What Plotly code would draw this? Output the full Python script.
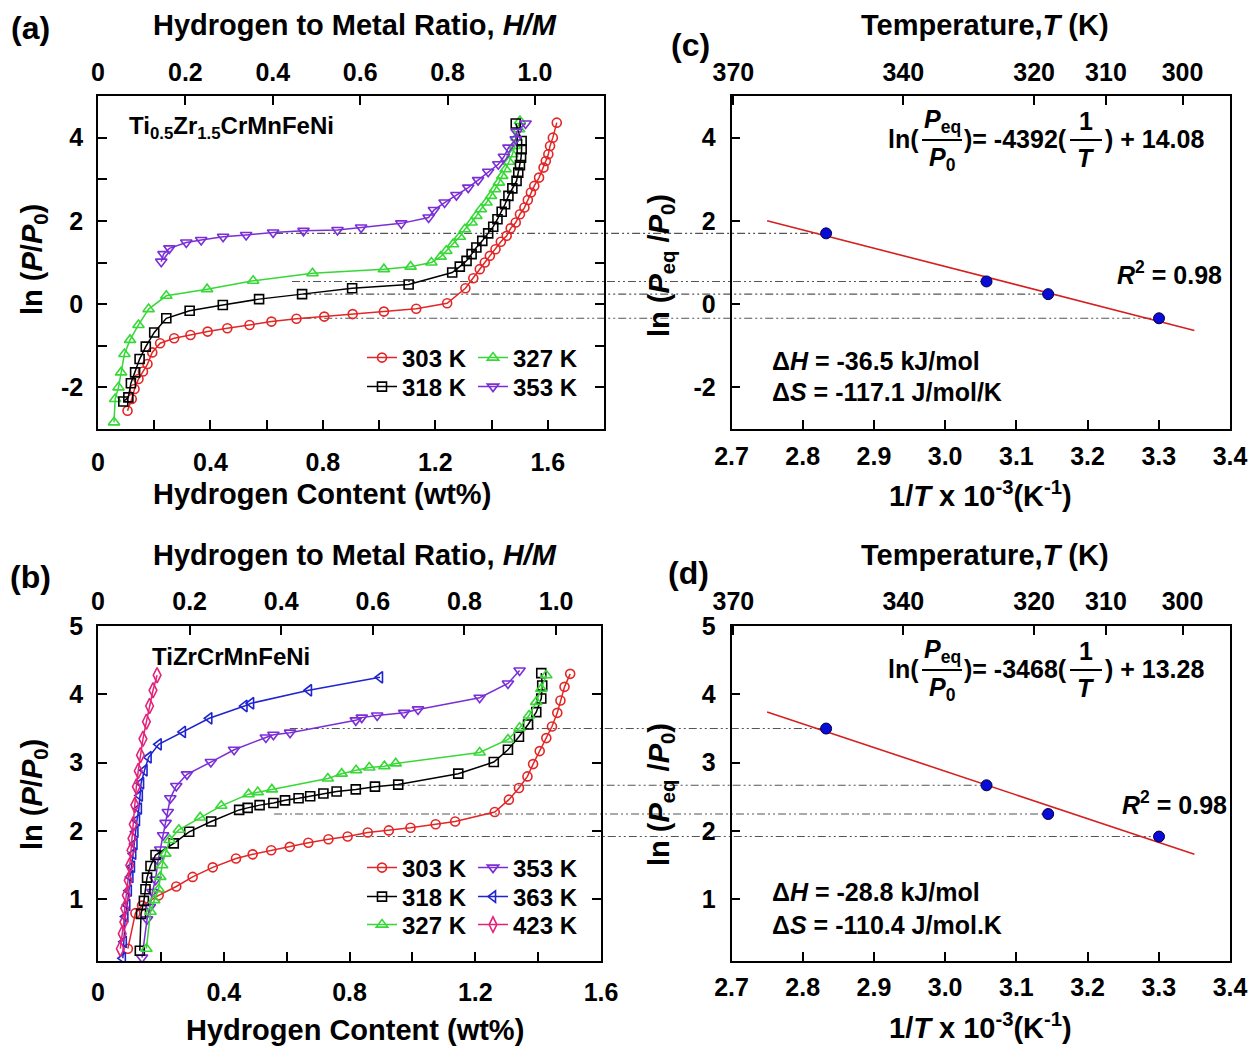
import plotly.graph_objects as go

W, H = 1254, 1048
FONT = "Liberation Sans, Arial, Helvetica, sans-serif"

# ---------------- (a) Ti0.5Zr1.5CrMnFeNi isotherms: wt% H vs ln(P/P0) ----------------
a_wt_303 = [0.105, 0.120, 0.130, 0.144, 0.160, 0.176, 0.193, 0.221, 0.271, 0.329, 0.390, 0.460, 0.539, 0.617,
            0.706, 0.805, 0.906, 1.017, 1.132, 1.242, 1.307, 1.335, 1.358, 1.376, 1.394, 1.414, 1.433, 1.454,
            1.468, 1.486, 1.501, 1.517, 1.529, 1.540, 1.552, 1.569, 1.585, 1.593, 1.602, 1.608, 1.618, 1.632]
a_ln_303 = [-2.56, -2.28, -2.04, -1.80, -1.62, -1.44, -1.16, -0.94, -0.82, -0.74, -0.66, -0.58, -0.50, -0.42,
            -0.35, -0.30, -0.24, -0.18, -0.11, 0.02, 0.38, 0.62, 0.84, 1.00, 1.16, 1.32, 1.50, 1.64,
            1.82, 1.96, 2.16, 2.32, 2.50, 2.68, 2.84, 3.04, 3.28, 3.44, 3.60, 3.80, 4.00, 4.36]

a_wt_318 = [0.090, 0.108, 0.117, 0.132, 0.148, 0.170, 0.200, 0.243, 0.326, 0.444, 0.573, 0.726, 0.904, 1.105,
            1.260, 1.287, 1.311, 1.329, 1.346, 1.367, 1.388, 1.406, 1.421, 1.436, 1.448, 1.460, 1.474, 1.489,
            1.495, 1.501, 1.505, 1.507, 1.507, 1.486]
a_ln_318 = [-2.34, -2.24, -1.90, -1.64, -1.32, -1.02, -0.68, -0.34, -0.16, -0.02, 0.12, 0.24, 0.38, 0.47,
            0.76, 0.90, 1.04, 1.20, 1.36, 1.52, 1.70, 1.86, 2.04, 2.22, 2.40, 2.60, 2.78, 2.96,
            3.16, 3.34, 3.52, 3.72, 3.92, 4.34]

a_wt_327 = [0.057, 0.061, 0.073, 0.082, 0.094, 0.114, 0.144, 0.180, 0.243, 0.388, 0.552, 0.763, 1.017, 1.112,
            1.186, 1.219, 1.239, 1.263, 1.287, 1.305, 1.329, 1.346, 1.362, 1.382, 1.398, 1.412, 1.426, 1.438,
            1.450, 1.462, 1.474, 1.483, 1.489, 1.498, 1.501]
a_ln_327 = [-2.84, -2.28, -2.00, -1.64, -1.20, -0.86, -0.50, -0.12, 0.20, 0.36, 0.56, 0.74, 0.84, 0.90,
            1.00, 1.14, 1.28, 1.44, 1.62, 1.80, 1.96, 2.12, 2.28, 2.44, 2.60, 2.76, 2.92, 3.08,
            3.24, 3.42, 3.60, 3.80, 4.00, 4.20, 4.40]

a_wt_353 = [0.225, 0.233, 0.254, 0.314, 0.367, 0.445, 0.527, 0.623, 0.731, 0.852, 0.936, 1.079, 1.176, 1.195,
            1.233, 1.275, 1.317, 1.352, 1.388, 1.424, 1.444, 1.460, 1.486, 1.489, 1.521]
a_ln_353 = [1.02, 1.20, 1.34, 1.48, 1.54, 1.62, 1.66, 1.72, 1.76, 1.78, 1.84, 1.94, 2.08, 2.26,
            2.44, 2.62, 2.80, 2.98, 3.18, 3.36, 3.54, 3.76, 3.96, 4.14, 4.34]

# ---------------- (b) TiZrCrMnFeNi isotherms ----------------
b_wt_303 = [0.095, 0.119, 0.140, 0.193, 0.249, 0.301, 0.365, 0.439, 0.492, 0.551, 0.610, 0.669, 0.733, 0.794,
            0.858, 0.925, 0.994, 1.074, 1.136, 1.262, 1.307, 1.339, 1.366, 1.384, 1.405, 1.426, 1.444, 1.461,
            1.471, 1.484, 1.502]
b_ln_303 = [0.28, 0.80, 0.91, 1.06, 1.19, 1.33, 1.47, 1.60, 1.66, 1.72, 1.77, 1.83, 1.88, 1.92,
            1.98, 2.01, 2.05, 2.10, 2.14, 2.28, 2.46, 2.63, 2.80, 2.98, 3.17, 3.36, 3.53, 3.73,
            3.91, 4.11, 4.30]

b_wt_318 = [0.133, 0.137, 0.146, 0.151, 0.156, 0.167, 0.183, 0.241, 0.290, 0.360, 0.449, 0.476, 0.514, 0.558,
            0.595, 0.638, 0.675, 0.717, 0.759, 0.820, 0.881, 0.955, 1.146, 1.259, 1.304, 1.339, 1.368, 1.394,
            1.410, 1.413, 1.410]
b_ln_318 = [0.25, 0.79, 0.98, 1.15, 1.32, 1.49, 1.65, 1.82, 1.99, 2.14, 2.31, 2.34, 2.38, 2.41,
            2.45, 2.48, 2.51, 2.55, 2.58, 2.61, 2.65, 2.68, 2.84, 3.01, 3.19, 3.38, 3.56, 3.74,
            3.94, 4.13, 4.31]

b_wt_327 = [0.154, 0.167, 0.179, 0.193, 0.198, 0.204, 0.214, 0.228, 0.257, 0.325, 0.392, 0.479, 0.508, 0.553,
            0.731, 0.775, 0.821, 0.863, 0.911, 0.947, 1.214, 1.304, 1.341, 1.371, 1.394, 1.410, 1.426]
b_ln_327 = [0.28, 0.82, 0.99, 1.15, 1.33, 1.50, 1.67, 1.87, 2.02, 2.20, 2.37, 2.54, 2.57, 2.61,
            2.77, 2.84, 2.89, 2.93, 2.95, 2.99, 3.15, 3.34, 3.51, 3.69, 3.89, 4.08, 4.28]

b_wt_353 = [0.140, 0.156, 0.165, 0.173, 0.183, 0.191, 0.198, 0.207, 0.215, 0.222, 0.230, 0.249, 0.283, 0.359,
            0.433, 0.534, 0.558, 0.611, 0.820, 0.839, 0.888, 0.974, 1.018, 1.214, 1.304, 1.341]
b_ln_353 = [0.15, 0.71, 0.89, 1.11, 1.29, 1.57, 1.73, 1.94, 2.12, 2.28, 2.48, 2.66, 2.83, 3.01,
            3.19, 3.37, 3.41, 3.44, 3.62, 3.66, 3.69, 3.73, 3.78, 3.95, 4.16, 4.35]

b_wt_363 = [0.079, 0.082, 0.087, 0.093, 0.098, 0.103, 0.108, 0.112, 0.116, 0.119, 0.124, 0.130, 0.133, 0.137,
            0.148, 0.161, 0.193, 0.270, 0.354, 0.466, 0.487, 0.671, 0.897]
b_ln_363 = [0.14, 0.38, 0.75, 0.92, 1.13, 1.33, 1.48, 1.67, 1.81, 1.99, 2.16, 2.33, 2.52, 2.70,
            2.89, 3.08, 3.27, 3.45, 3.65, 3.83, 3.87, 4.06, 4.25]

b_wt_423 = [0.071, 0.077, 0.082, 0.085, 0.090, 0.096, 0.101, 0.105, 0.108, 0.112, 0.117, 0.122, 0.128, 0.135,
            0.143, 0.154, 0.164, 0.175, 0.188]
b_ln_423 = [0.28, 0.50, 0.67, 0.87, 1.06, 1.28, 1.50, 1.72, 1.89, 2.10, 2.38, 2.65, 2.88, 3.11,
            3.35, 3.60, 3.83, 4.06, 4.28]

# ---------------- (c), (d) van't Hoff plots ----------------
vh_T = [303, 318, 327, 353]                 # K
vh_ln_c = [-0.34, 0.24, 0.545, 1.70]        # plateau ln(Peq/P0), Ti0.5Zr1.5CrMnFeNi
vh_ln_d = [1.92, 2.25, 2.67, 3.50]          # plateau ln(Peq/P0), TiZrCrMnFeNi
fit_c = (-4392, 14.08)                      # slope (K), intercept
fit_d = (-3468, 13.28)
fit_x = [2.75, 3.35]                        # 1000/T extent of the fitted line
R_GAS = 8.314
# wt% at which the plateau guide lines leave the isotherm panels
guide_start_a = [0.73, 0.73, 0.69, 0.63]
guide_start_b = [0.82, 0.56, 0.95, 0.61]

# ---------------- tick values / labels ----------------
wt_major_a = [0, 0.4, 0.8, 1.2, 1.6]
wt_minor_a = [0.2, 0.6, 1.0, 1.4]
wt_major_b = [0, 0.4, 0.8, 1.2, 1.6]
wt_minor_b = [0.2, 0.6, 1.0, 1.4]
hm_ticks = [0, 0.2, 0.4, 0.6, 0.8, 1.0]
hm_text = ["0", "0.2", "0.4", "0.6", "0.8", "1.0"]
ln_major_a = [-2, 0, 2, 4]
ln_minor_a = [-1, 1, 3]
ln_ticks_c = [-2, 0, 2, 4]
ln_ticks_b = [1, 2, 3, 4, 5]
invT_ticks = [2.7, 2.8, 2.9, 3.0, 3.1, 3.2, 3.3, 3.4]
invT_text = ["2.7", "2.8", "2.9", "3.0", "3.1", "3.2", "3.3", "3.4"]
temp_ticks = [370, 340, 320, 310, 300]

# ---------------- panel geometry (pixels) ----------------
PA = dict(x=(98, 604), y=(96, 429))
PB = dict(x=(98, 601), y=(626, 961))
PC = dict(x=(731.5, 1230), y=(96, 429))
PD = dict(x=(731.5, 1230), y=(626, 961))
RA_x, RA_y, RA_top = [0, 1.8], [-3, 5], [0, 1.158]
RB_x, RB_y, RB_top = [0, 1.6], [0.1, 5], [0, 1.098]
RC_x, RC_y, RD_y = [2.7, 3.4], [-3, 5], [0.1, 5]


def dom_x(p):
    return [p["x"][0] / W, p["x"][1] / W]


def dom_y(p):
    return [1 - p["y"][1] / H, 1 - p["y"][0] / H]


def data_to_paper_x(p, rng, v):
    l, r = p["x"]
    return (l + (v - rng[0]) / (rng[1] - rng[0]) * (r - l)) / W


STY = {
    303: ("#e32626", "circle-open", 9),
    318: ("#000000", "square-open", 9),
    327: ("#36d836", "triangle-up-open", 10),
    353: ("#7b2ed6", "triangle-down-open", 10),
    363: ("#1f24d0", "triangle-left-open", 10),
    423: ("#e3237a", "diamond-tall-open", 11),
}


def iso(x, y, T, xa, ya, legend):
    c, sym, sz = STY[T]
    return go.Scatter(
        x=x, y=y, mode="lines+markers", name=f"{T} K", xaxis=xa, yaxis=ya, legend=legend,
        line=dict(color=c, width=1.5),
        marker=dict(symbol=sym, size=sz, color=c, line=dict(color=c, width=1.6)),
        hoverinfo="skip",
    )


def placeholder(xa, ya):
    return go.Scatter(x=[None], y=[None], xaxis=xa, yaxis=ya, showlegend=False, hoverinfo="skip")


inv_T = [1000.0 / t for t in vh_T]

traces = [
    iso(a_wt_303, a_ln_303, 303, "x", "y", "legend"),
    iso(a_wt_327, a_ln_327, 327, "x", "y", "legend"),
    iso(a_wt_318, a_ln_318, 318, "x", "y", "legend2"),
    iso(a_wt_353, a_ln_353, 353, "x", "y", "legend2"),
    placeholder("x2", "y"),
    iso(b_wt_303, b_ln_303, 303, "x5", "y5", "legend3"),
    iso(b_wt_353, b_ln_353, 353, "x5", "y5", "legend3"),
    iso(b_wt_318, b_ln_318, 318, "x5", "y5", "legend4"),
    iso(b_wt_363, b_ln_363, 363, "x5", "y5", "legend4"),
    iso(b_wt_327, b_ln_327, 327, "x5", "y5", "legend5"),
    iso(b_wt_423, b_ln_423, 423, "x5", "y5", "legend5"),
    placeholder("x6", "y5"),
    placeholder("x4", "y3"),
    placeholder("x8", "y7"),
]

for fit, pts, xa, ya in [(fit_c, vh_ln_c, "x3", "y3"), (fit_d, vh_ln_d, "x7", "y7")]:
    slope, icpt = fit
    traces.append(go.Scatter(x=fit_x, y=[slope * v / 1000.0 + icpt for v in fit_x], mode="lines",
                             xaxis=xa, yaxis=ya, showlegend=False, hoverinfo="skip",
                             line=dict(color="#d42020", width=1.6)))
    traces.append(go.Scatter(x=inv_T, y=pts, mode="markers", xaxis=xa, yaxis=ya, showlegend=False,
                             hoverinfo="skip",
                             marker=dict(size=11, color="#0b0bd8", line=dict(color="#000040", width=1))))

fig = go.Figure(traces)

TICKFONT = dict(family=FONT, size=25, color="black", weight="bold")
MINOR = dict(ticks="inside", ticklen=9, tickwidth=1.5, tickcolor="black", showgrid=False)


def ax(**kw):
    d = dict(showline=True, linecolor="black", linewidth=1.6, mirror=False, ticks="inside", ticklen=9,
             tickwidth=1.5, tickcolor="black", showgrid=False, zeroline=False, fixedrange=True,
             automargin=False, tickfont=TICKFONT, tickmode="array")
    d.update(kw)
    return d


temp_pos = [1000.0 / t for t in temp_ticks]


def fmt(vals):
    return [f"{v:g}" for v in vals]


fig.update_layout(
    template="none",
    xaxis=ax(domain=dom_x(PA), range=RA_x, anchor="y", tickvals=wt_major_a, ticktext=fmt(wt_major_a),
             minor=dict(tickvals=wt_minor_a, **MINOR), ticklabelstandoff=10),
    xaxis2=ax(overlaying="x", side="top", anchor="y", range=RA_top, tickvals=hm_ticks, ticktext=hm_text,
              ticklabelstandoff=3),
    yaxis=ax(domain=dom_y(PA), range=RA_y, anchor="x", mirror="ticks", tickvals=ln_major_a,
             ticktext=fmt(ln_major_a), minor=dict(tickvals=ln_minor_a, **MINOR), ticklabelstandoff=8),
    xaxis3=ax(domain=dom_x(PC), range=RC_x, anchor="y3", tickvals=invT_ticks, ticktext=invT_text,
              ticklabelstandoff=4),
    xaxis4=ax(overlaying="x3", side="top", anchor="y3", range=RC_x, tickvals=temp_pos,
              ticktext=[str(t) for t in temp_ticks], ticklabelstandoff=3),
    yaxis3=ax(domain=dom_y(PC), range=RC_y, anchor="x3", mirror=True, tickvals=ln_ticks_c,
              ticktext=fmt(ln_ticks_c), ticklabelstandoff=9),
    xaxis5=ax(domain=dom_x(PB), range=RB_x, anchor="y5", tickvals=wt_major_b, ticktext=fmt(wt_major_b),
              minor=dict(tickvals=wt_minor_b, **MINOR), ticklabelstandoff=8),
    xaxis6=ax(overlaying="x5", side="top", anchor="y5", range=RB_top, tickvals=hm_ticks, ticktext=hm_text,
              ticklabelstandoff=4),
    yaxis5=ax(domain=dom_y(PB), range=RB_y, anchor="x5", mirror="ticks", tickvals=ln_ticks_b,
              ticktext=fmt(ln_ticks_b), ticklabelstandoff=8),
    xaxis7=ax(domain=dom_x(PD), range=RC_x, anchor="y7", tickvals=invT_ticks, ticktext=invT_text,
              ticklabelstandoff=3),
    xaxis8=ax(overlaying="x7", side="top", anchor="y7", range=RC_x, tickvals=temp_pos,
              ticktext=[str(t) for t in temp_ticks], ticklabelstandoff=4),
    yaxis7=ax(domain=dom_y(PD), range=RD_y, anchor="x7", mirror=True, tickvals=ln_ticks_b,
              ticktext=fmt(ln_ticks_b), ticklabelstandoff=9),
)

# ---------- legends: one horizontal legend per row ----------
LEG_X = 362


def leg(ypx):
    return dict(orientation="h", x=LEG_X / W, y=1 - ypx / H, xanchor="left", yanchor="middle",
                xref="paper", yref="paper", entrywidth=66, entrywidthmode="pixels", itemwidth=30,
                bgcolor="rgba(0,0,0,0)", borderwidth=0, traceorder="normal",
                font=dict(family=FONT, size=24, color="black", weight="bold"))


fig.update_layout(legend=leg(358), legend2=leg(387), legend3=leg(868), legend4=leg(897), legend5=leg(925))

# ---------- plateau guide lines linking isotherms to van't Hoff points ----------
shapes = []
GUIDE = dict(color="#555555", width=1.1, dash="8px,3px,2px,3px,2px,3px")
for T, y, x0 in zip(vh_T, vh_ln_c, guide_start_a):
    shapes.append(dict(type="line", xref="paper", yref="y", layer="below",
                       x0=data_to_paper_x(PA, RA_x, x0), x1=data_to_paper_x(PC, RC_x, 1000.0 / T),
                       y0=y, y1=y, line=GUIDE))
for T, y, x0 in zip(vh_T, vh_ln_d, guide_start_b):
    shapes.append(dict(type="line", xref="paper", yref="y5", layer="below",
                       x0=data_to_paper_x(PB, RB_x, x0), x1=data_to_paper_x(PD, RC_x, 1000.0 / T),
                       y0=y, y1=y, line=GUIDE))

annotations = []


def note(text, xp, yp, size=25, xanchor="center", yanchor="middle", angle=0):
    annotations.append(dict(text=text, x=xp / W, y=1 - yp / H, xref="paper", yref="paper", showarrow=False,
                            xanchor=xanchor, yanchor=yanchor, textangle=angle,
                            font=dict(family=FONT, size=size, color="black", weight="bold")))


def bar(x0p, x1p, yp):
    shapes.append(dict(type="line", xref="paper", yref="paper", x0=x0p / W, x1=x1p / W,
                       y0=1 - yp / H, y1=1 - yp / H, line=dict(color="black", width=2)))


# panel letters
note("(a)", 30, 28, size=32)
note("(b)", 30, 577, size=32)
note("(c)", 690, 45, size=32)
note("(d)", 688, 573, size=32)

# axis titles
for top in (0, 530):
    note("Hydrogen to Metal Ratio, <i>H/M</i>", 355, 25 + top, size=29)
    note("Temperature,<i>T</i> (K)", 985, 25 + top, size=29)
note("Hydrogen Content (wt%)", 322, 494, size=29)
note("Hydrogen Content (wt%)", 355, 1030, size=29)
note("ln (<i>P</i>/<i>P</i><sub>0</sub>)", 34, 260, size=29, angle=-90)
note("ln (<i>P</i>/<i>P</i><sub>0</sub>)", 34, 795, size=29, angle=-90)
note("ln (<i>P</i><sub>eq</sub> /<i>P</i><sub>0</sub>)", 661, 266, size=29, angle=-90)
note("ln (<i>P</i><sub>eq</sub> /<i>P</i><sub>0</sub>)", 661, 795, size=29, angle=-90)
note("1/<i>T</i> x 10<sup>-3</sup>(K<sup>-1</sup>)", 980, 494, size=29)
note("1/<i>T</i> x 10<sup>-3</sup>(K<sup>-1</sup>)", 980, 1026, size=29)

# alloy names
note("Ti<sub>0.5</sub>Zr<sub>1.5</sub>CrMnFeNi", 127, 128, size=24, xanchor="left")
note("TiZrCrMnFeNi", 150, 656, size=24, xanchor="left")


# van't Hoff equations, R^2 and thermodynamic values
def vant_hoff_text(fit, top, dS_unit, dh_y, ds_y, r2_x):
    slope, icpt = fit
    yc = top + 42
    note("ln(", 921, yc, xanchor="right")
    note("<i>P</i><sub>eq</sub>", 942, yc - 18)
    bar(922, 962, yc + 1)
    note("<i>P</i><sub>0</sub>", 942, yc + 20)
    note(f")= {slope}(", 962, yc, xanchor="left")
    note("1", 1086, yc - 18)
    bar(1070, 1102, yc + 1)
    note("<i>T</i>", 1086, yc + 19)
    note(f") + {icpt:.2f}", 1103, yc, xanchor="left")
    note("<i>R</i><sup>2</sup> = 0.98", r2_x, top + 176, xanchor="left")
    dH = slope * R_GAS / 1000.0
    dS = -icpt * R_GAS
    note(f"\u0394<i>H</i> = {dH:.1f} kJ/mol", 770, dh_y, xanchor="left")
    note(f"\u0394<i>S</i> = {dS:.1f} {dS_unit}", 770, ds_y, xanchor="left")


vant_hoff_text(fit_c, 97, "J/mol/K", 361, 392, 1115)
vant_hoff_text(fit_d, 627, "J/mol.K", 892, 925, 1120)

fig.update_layout(
    width=W, height=H, autosize=False,
    margin=dict(l=0, r=0, t=0, b=0, pad=0),
    paper_bgcolor="white", plot_bgcolor="white",
    font=dict(family=FONT, size=25, color="black", weight="bold"),
    shapes=shapes, annotations=annotations,
    hovermode=False,
)

fig.write_html("out.html")
